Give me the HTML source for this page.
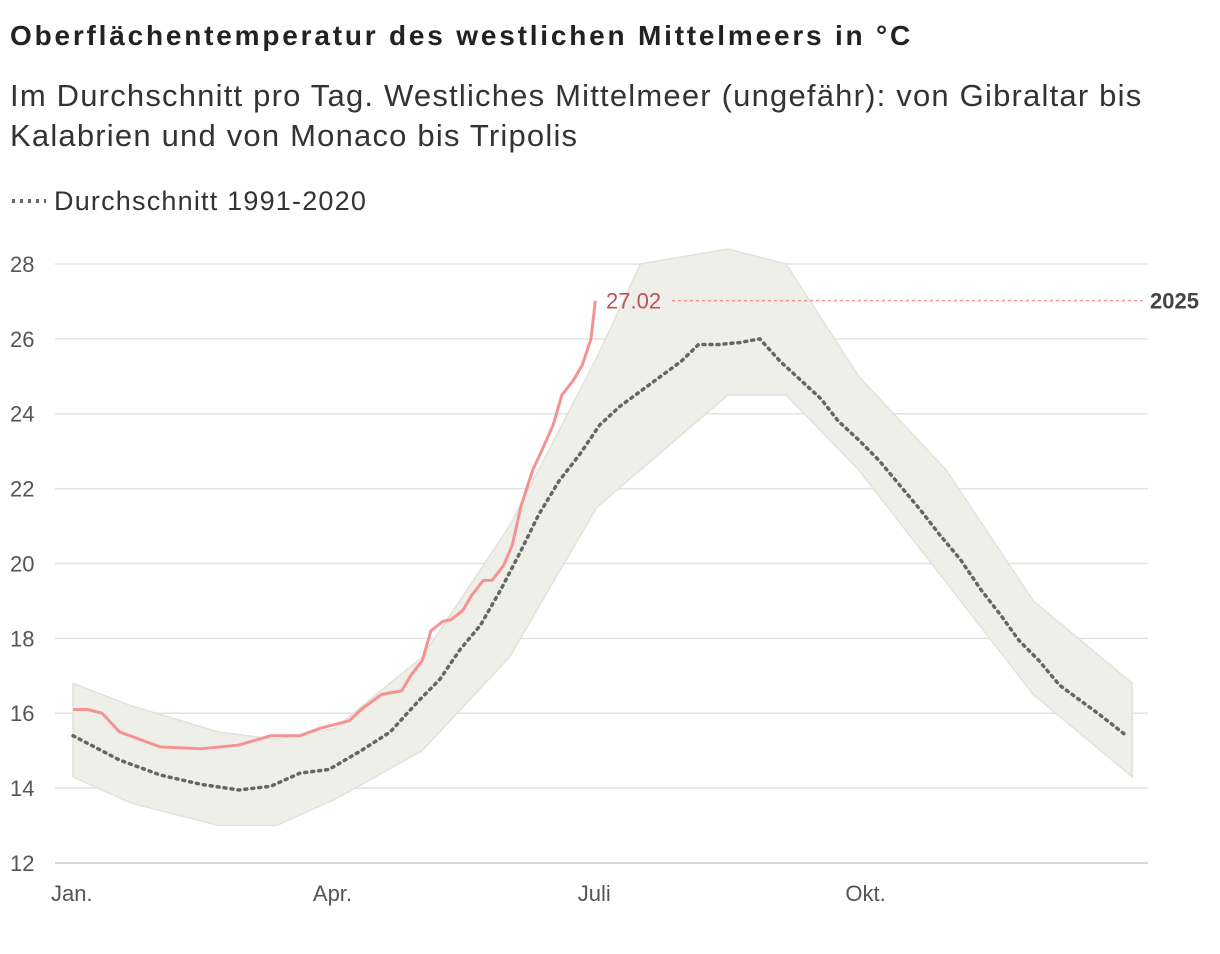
<!DOCTYPE html>
<html><head><meta charset="utf-8">
<style>
body{margin:0;background:#fff;width:1220px;height:954px;overflow:hidden;font-family:"Liberation Sans",sans-serif;color:#333}
#title{position:absolute;left:10px;top:20px;font-size:28px;font-weight:bold;color:#222;margin:0;letter-spacing:2.8px;white-space:nowrap}
#sub{position:absolute;left:10px;top:76px;font-size:31px;color:#333;line-height:40px;width:1170px;font-weight:normal;margin:0;letter-spacing:1.2px}
#legend{position:absolute;left:10px;top:186px;font-size:27px;color:#333;letter-spacing:1.2px}
svg{position:absolute;left:0;top:0}
</style></head><body>
<h1 id="title">Oberflächentemperatur des westlichen Mittelmeers in °C</h1>
<h2 id="sub">Im Durchschnitt pro Tag. Westliches Mittelmeer (ungefähr): von Gibraltar bis Kalabrien und von Monaco bis Tripolis</h2>
<div id="legend"><svg width="44" height="30" style="position:relative;vertical-align:middle;top:-2px"><line x1="2" y1="15" x2="36" y2="15" stroke="#666" stroke-width="4" stroke-dasharray="3,5"/></svg>Durchschnitt 1991-2020</div>
<svg id="chart" width="1220" height="954"></svg>
<script>
const yTicks=[12,14,16,18,20,22,24,26,28];
const monthLabels=["Jan.","Apr.","Juli","Okt."];
const monthDays=[0,90,181,273];
const avgDays=[0,16,30,44,57,68,78,88,99,109,119,126,133,140,147,154,160,167,174,181,188,195,202,209,215,222,229,236,243,250,257,263,270,277,284,291,298,305,312,319,325,332,339,346,353,362];
const avgVals=[15.4,14.75,14.35,14.1,13.95,14.05,14.4,14.5,15.0,15.5,16.35,16.9,17.7,18.35,19.3,20.35,21.3,22.2,22.9,23.7,24.2,24.6,25.0,25.4,25.85,25.85,25.9,26.0,25.4,24.9,24.4,23.8,23.3,22.75,22.1,21.45,20.75,20.1,19.3,18.6,17.95,17.4,16.75,16.35,15.95,15.4];
const curDays=[0,5,10,16,30,44,57,68,78,85,95,99,106,113,116,120,123,127,130,134,137,141,144,148,151,154,158,161,165,168,172,175,178,179.5];
const curVals=[16.1,16.1,16.0,15.5,15.1,15.05,15.15,15.4,15.4,15.6,15.8,16.1,16.5,16.6,17.0,17.4,18.2,18.45,18.5,18.75,19.15,19.55,19.55,19.95,20.5,21.55,22.5,23.0,23.7,24.5,24.9,25.3,26.0,27.02];
const envDays=[0,20,50,70,90,120,150,180,195,225,245,270,300,330,364];
const envUpper=[16.8,16.2,15.5,15.3,15.6,17.5,21.0,25.5,28.0,28.4,28.0,25.0,22.5,19.0,16.8];
const envLower=[14.3,13.6,13.0,13.0,13.7,15.0,17.5,21.5,22.5,24.5,24.5,22.5,19.5,16.5,14.3];
const curLabel="27.02", yearLabel="2025";

const svg=document.getElementById('chart');const NS="http://www.w3.org/2000/svg";
const x=d=>73+d*2.91, y=v=>863-(v-12)*37.44;
function mk(t,a){const e=document.createElementNS(NS,t);for(const k in a)e.setAttribute(k,a[k]);svg.appendChild(e);return e;}
yTicks.forEach(t=>{
 const g=mk('line',{x1:55,x2:1148,y1:y(t),y2:y(t),stroke:t===12?'#ccc':'#e2e2e2','stroke-width':1.5});
 
 
 const l=mk('text',{x:10,y:y(t)+8,'font-size':22,fill:'#555','font-family':'Liberation Sans'});l.textContent=t;
 
 
});
monthLabels.forEach((m,i)=>{
 const l=mk('text',{x:x(monthDays[i])-22,y:901,'font-size':22,fill:'#555','font-family':'Liberation Sans'});l.textContent=m;
 
 
});
const up=envDays.map((d,i)=>x(d)+','+y(envUpper[i]));
const lo=envDays.map((d,i)=>x(d)+','+y(envLower[i])).reverse();
const band=mk('polygon',{points:up.concat(lo).join(' '),fill:'#efefea',stroke:'#e2e2dc','stroke-width':1.5});


const avg=mk('polyline',{points:avgDays.map((d,i)=>x(d)+','+y(avgVals[i])).join(' '),fill:'none',stroke:'#666','stroke-width':3.5,'stroke-dasharray':'2,5','stroke-linecap':'round'});


const cur=mk('polyline',{points:curDays.map((d,i)=>x(d)+','+y(curVals[i])).join(' '),fill:'none',stroke:'#f59292','stroke-width':3,'stroke-linejoin':'round'});


const ly=y(curVals[curVals.length-1]);
const dl=mk('line',{x1:672,x2:1145,y1:ly,y2:ly,stroke:'#f59292','stroke-width':1.5,'stroke-dasharray':'3,3'});


const vl=mk('text',{x:606,y:ly+8,'font-size':22,fill:'#c0505a','font-family':'Liberation Sans'});vl.textContent=curLabel;


const yl=mk('text',{x:1150,y:ly+8,'font-size':22,'font-weight':'bold',fill:'#444','font-family':'Liberation Sans'});yl.textContent=yearLabel;


</script>
</body></html>
